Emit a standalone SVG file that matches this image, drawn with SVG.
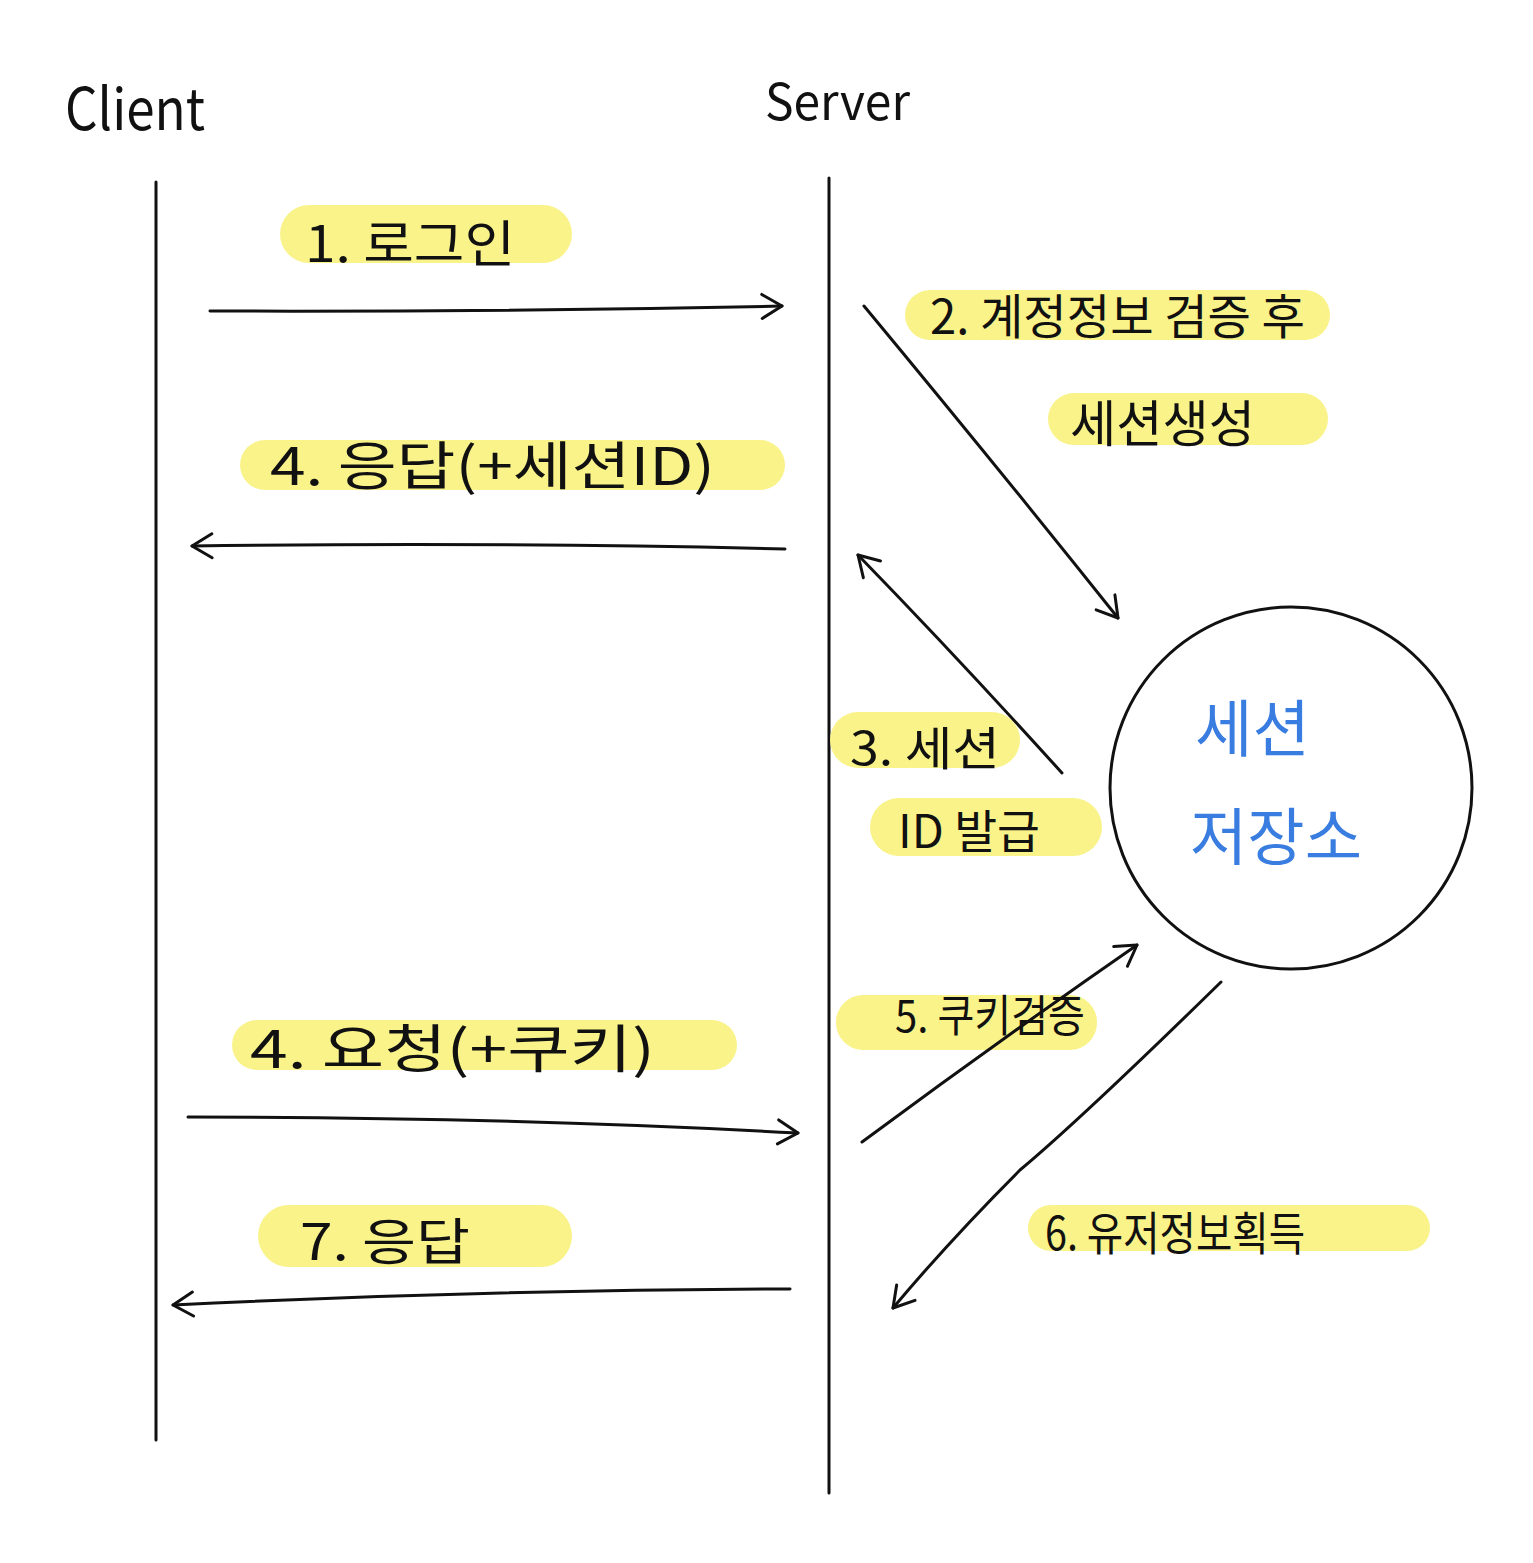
<svg xmlns="http://www.w3.org/2000/svg" width="1533" height="1563" viewBox="0 0 1533 1563">
<style>
.hl{fill:#f9f38a}
.ln{stroke:#111;stroke-width:3;fill:none;stroke-linecap:round}
.t{font-family:"Noto Sans CJK KR","Liberation Sans",sans-serif;fill:#111}
.b{font-family:"Noto Sans CJK KR","Liberation Sans",sans-serif;fill:#3a7de0}
</style>
<defs>
<marker id="ah" markerWidth="30" markerHeight="30" refX="26" refY="15" orient="auto" markerUnits="userSpaceOnUse">
<path d="M6,3 L26,15 L6,27" fill="none" stroke="#111" stroke-width="3" stroke-linecap="round" stroke-linejoin="round"/>
</marker>
</defs>
<rect width="1533" height="1563" fill="#fff"/>
<g id="client">
<text class="t" x="65" y="130" font-size="58" textLength="140" lengthAdjust="spacingAndGlyphs">Client</text>
<line class="ln" x1="156" y1="182" x2="156" y2="1440"/>
</g>
<g id="server">
<text class="t" x="765" y="120" font-size="50" textLength="145" lengthAdjust="spacingAndGlyphs">Server</text>
<line class="ln" x1="829" y1="178" x2="829" y2="1493"/>
</g>
<g id="store">
<circle cx="1291" cy="788" r="181" fill="none" stroke="#111" stroke-width="3"/>
<text class="b" x="1195" y="752" font-size="62" textLength="115" lengthAdjust="spacingAndGlyphs">세션</text>
<text class="b" x="1190" y="860" font-size="62" textLength="172" lengthAdjust="spacingAndGlyphs">저장소</text>
</g>
<g id="label1">
<rect class="hl" x="280" y="205" width="292" height="58" rx="29"/>
<text class="t" x="305" y="262" font-size="50" textLength="210" lengthAdjust="spacingAndGlyphs">1. 로그인</text>
</g>
<g id="label2">
<rect class="hl" x="905" y="290" width="425" height="50" rx="25"/>
<text class="t" x="930" y="334" font-size="48" textLength="375" lengthAdjust="spacingAndGlyphs">2. 계정정보 검증 후</text>
<rect class="hl" x="1048" y="393" width="280" height="52" rx="26"/>
<text class="t" x="1070" y="442" font-size="50" textLength="185" lengthAdjust="spacingAndGlyphs">세션생성</text>
</g>
<g id="label4a">
<rect class="hl" x="240" y="440" width="545" height="50" rx="25"/>
<text class="t" x="270" y="485" font-size="52" textLength="445" lengthAdjust="spacingAndGlyphs">4. 응답(+세션ID)</text>
</g>
<g id="label3">
<rect class="hl" x="830" y="712" width="190" height="56" rx="28"/>
<text class="t" x="850" y="765" font-size="46" textLength="150" lengthAdjust="spacingAndGlyphs">3. 세션</text>
<rect class="hl" x="870" y="798" width="232" height="58" rx="29"/>
<text class="t" x="898" y="848" font-size="46" textLength="142" lengthAdjust="spacingAndGlyphs">ID 발급</text>
</g>
<g id="label5">
<rect class="hl" x="836" y="995" width="261" height="55" rx="27"/>
<text class="t" x="895" y="1032" font-size="44" textLength="190" lengthAdjust="spacingAndGlyphs">5. 쿠키검증</text>
</g>
<g id="label4b">
<rect class="hl" x="232" y="1020" width="505" height="50" rx="25"/>
<text class="t" x="250" y="1068" font-size="52" textLength="405" lengthAdjust="spacingAndGlyphs">4. 요청(+쿠키)</text>
</g>
<g id="label6">
<rect class="hl" x="1028" y="1205" width="402" height="46" rx="23"/>
<text class="t" x="1045" y="1250" font-size="46" textLength="260" lengthAdjust="spacingAndGlyphs">6. 유저정보획득</text>
</g>
<g id="label7">
<rect class="hl" x="258" y="1205" width="314" height="62" rx="31"/>
<text class="t" x="300" y="1260" font-size="50" textLength="170" lengthAdjust="spacingAndGlyphs">7. 응답</text>
</g>
<g id="connectors">
<path class="ln" d="M210,311 Q500,312 782,306" marker-end="url(#ah)"/>
<path class="ln" d="M864,306 Q1000,470 1118,618" marker-end="url(#ah)"/>
<path class="ln" d="M785,549 Q500,542 192,546" marker-end="url(#ah)"/>
<path class="ln" d="M1062,773 Q960,660 858,555" marker-end="url(#ah)"/>
<path class="ln" d="M862,1142 Q1000,1040 1137,945" marker-end="url(#ah)"/>
<path class="ln" d="M188,1117 Q500,1117 798,1133" marker-end="url(#ah)"/>
<path class="ln" d="M1221,982 Q1080,1120 1020,1170 Q950,1240 893,1308" marker-end="url(#ah)"/>
<path class="ln" d="M790,1289 Q480,1290 173,1305" marker-end="url(#ah)"/>
</g>
</svg>
